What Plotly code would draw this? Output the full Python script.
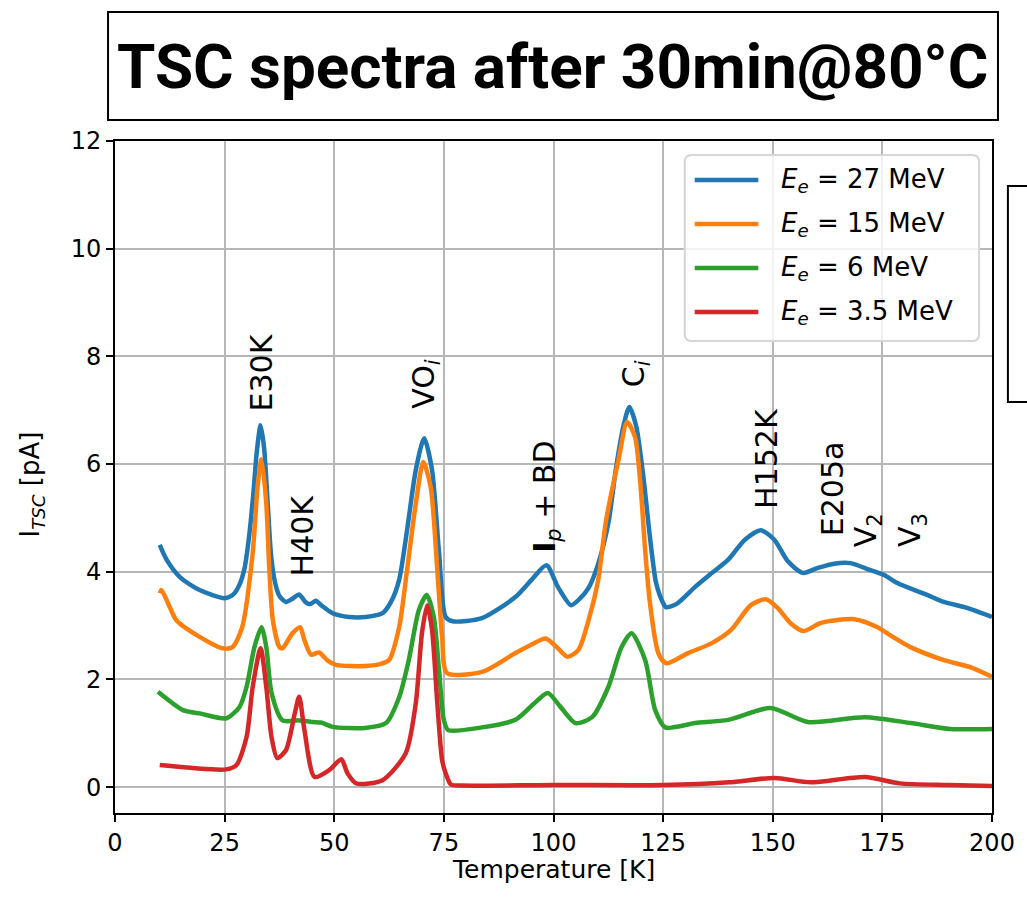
import plotly.graph_objects as go

# ---- TSC spectra (temperature in K, current in pA) ----
T_27 = [10.2, 11.8, 14.8, 19.3, 25.0, 27.0, 28.5, 29.5, 30.5, 31.5, 32.3, 33.2, 34.0, 34.8, 35.6,
        36.5, 37.5, 39.0, 40.5, 42.0, 43.3, 44.5, 45.8, 47.0, 49.6, 53.4, 57.2, 61.0, 63.0, 64.8,
        66.6, 68.6, 70.5, 72.3, 73.9, 75.4, 77.0, 83.7, 91.3, 95.0, 98.4, 101.0, 104.0, 106.0,
        108.0, 110.0, 112.5, 114.3, 115.9, 117.3, 118.9, 120.5, 122.0, 123.4, 125.0, 125.7, 128.0,
        132.3, 136.0, 139.8, 143.6, 147.3, 150.4, 153.4, 156.8, 160.2, 164.0, 167.7, 172.3, 175.4,
        178.4, 185.2, 189.0, 194.3, 200.0]
I_27 = [4.50, 4.22, 3.90, 3.66, 3.51, 3.58, 3.78, 4.05, 4.60, 5.40, 6.20, 6.72, 6.30, 5.30, 4.30,
        3.80, 3.55, 3.44, 3.50, 3.58, 3.45, 3.40, 3.46, 3.38, 3.23, 3.16, 3.16, 3.23, 3.45, 3.85,
        4.77, 5.89, 6.48, 5.89, 4.35, 3.16, 3.08, 3.14, 3.53, 3.85, 4.12, 3.72, 3.38, 3.50,
        3.70, 4.10, 4.90, 5.95, 6.69, 7.06, 6.69, 5.76, 4.64, 3.79, 3.42, 3.34, 3.40,
        3.72, 3.97, 4.22, 4.59, 4.77, 4.59, 4.20, 3.98, 4.07, 4.15, 4.16, 4.03, 3.94,
        3.79, 3.57, 3.44, 3.33, 3.16]

T_15 = [10.2, 10.6, 12.5, 14.0, 19.3, 24.5, 26.8, 29.0, 31.4, 32.5, 33.4, 34.5, 35.2, 36.0, 37.5,
        38.2, 40.5, 42.2, 43.2, 44.7, 46.5, 48.5, 50.4, 57.0, 61.0, 62.5, 64.8, 66.6, 68.6, 70.3,
        72.0, 73.5, 74.6, 75.7, 83.7, 91.3, 95.0, 98.2, 100.5, 103.2, 105.7, 108.0, 110.2, 112.0,
        114.8, 116.8, 118.6, 119.8, 120.9, 122.0, 123.9, 125.7, 130.7, 136.0, 140.5, 145.0, 148.4,
        151.1, 154.0, 157.0, 161.0, 168.6, 173.9, 176.8, 181.4, 189.0, 195.0, 200.0]
I_15 = [3.60, 3.66, 3.34, 3.10, 2.79, 2.58, 2.60, 2.97, 4.35, 5.57, 6.09, 5.27, 4.03, 3.10, 2.60,
        2.58, 2.86, 2.97, 2.73, 2.46, 2.50, 2.35, 2.27, 2.25, 2.30, 2.36, 2.97, 4.03, 5.27, 6.04,
        5.57, 4.03, 2.79, 2.12, 2.14, 2.49, 2.65, 2.76, 2.62, 2.42, 2.55, 3.10, 3.85, 4.96,
        6.07, 6.78, 6.50, 5.65, 4.40, 3.42, 2.49, 2.30, 2.49, 2.67, 2.92, 3.38, 3.49,
        3.33, 3.05, 2.90, 3.05, 3.12, 2.97, 2.82, 2.60, 2.36, 2.23, 2.05]

T_6 = [9.8, 15.5, 19.3, 25.4, 28.4, 30.0, 31.8, 33.4, 34.5, 35.7, 38.2, 42.0, 45.0, 47.0, 49.6,
       57.0, 61.8, 64.8, 67.0, 69.3, 71.1, 72.7, 73.9, 75.0, 76.0, 83.7, 91.3, 95.5, 98.7, 101.5,
       105.0, 108.8, 112.5, 115.5, 117.8, 120.9, 123.2, 125.5, 132.3, 139.8, 149.5,
       158.0, 171.0, 181.5, 190.5, 200.0]
I_6 = [1.77, 1.43, 1.37, 1.28, 1.49, 1.86, 2.60, 2.97, 2.60, 1.75, 1.24, 1.24, 1.21, 1.20, 1.12,
       1.10, 1.19, 1.67, 2.36, 3.29, 3.57, 3.16, 2.17, 1.24, 1.06, 1.11, 1.25, 1.55, 1.75, 1.50,
       1.19, 1.30, 1.86, 2.60, 2.86, 2.36, 1.43, 1.11, 1.19, 1.25, 1.47,
       1.21, 1.30, 1.19, 1.08, 1.08]

T_35 = [10.2, 25.4, 27.7, 30.0, 31.4, 33.2, 34.5, 35.7, 37.0, 39.0, 41.0, 42.0, 43.2, 45.5, 48.9,
        51.6, 53.0, 55.0, 61.0, 66.3, 68.6, 70.0, 71.2, 72.3, 73.5, 74.6, 75.4, 76.6, 79.0, 100.0,
        125.0, 140.0, 150.4, 158.6, 171.0, 179.0, 190.0, 200.0]
I_35 = [0.41, 0.33, 0.41, 0.93, 1.86, 2.58, 1.86, 0.93, 0.54, 0.69, 1.37, 1.68, 1.06, 0.19, 0.32,
        0.52, 0.26, 0.07, 0.13, 0.63, 1.56, 2.86, 3.38, 2.92, 1.56, 0.50, 0.26, 0.05, 0.03, 0.04,
        0.04, 0.09, 0.17, 0.09, 0.19, 0.07, 0.04, 0.02]

series_labels = ["27", "15", "6", "3.5"]
series_colors = ["#1f77b4", "#ff7f0e", "#2ca02c", "#d62728"]
series_T = [T_27, T_15, T_6, T_35]
series_I = [I_27, I_15, I_6, I_35]

# defect labels placed above the peaks
peak_names = ["E30K", "H40K", "VO<sub><i>i</i></sub>", "<b>I</b><sub><i>p</i></sub> + BD",
              "C<sub><i>i</i></sub>", "H152K", "E205a", "V<sub>2</sub>", "V<sub>3</sub>"]
peak_T = [33.4, 42.7, 70.9, 98.4, 118.6, 148.4, 163.6, 171.6, 181.8]
peak_I = [7.71, 4.68, 7.49, 5.40, 7.67, 6.11, 5.54, 4.78, 4.78]

x_ticks = [0, 25, 50, 75, 100, 125, 150, 175, 200]
y_ticks = [0, 2, 4, 6, 8, 10, 12]

W, H = 1027, 898
L, R, TOP, B = 115, 30, 141, 85
FONT = "DejaVu Sans"


def px(x):
    return (x - L) / (W - L - R)


def py(y):
    return (H - B - y) / (H - TOP - B)


fig = go.Figure()
for T, I, c in zip(series_T, series_I, series_colors):
    fig.add_trace(go.Scatter(x=T, y=I, mode="lines",
                             line=dict(color=c, width=4.5, shape="spline", smoothing=0.7),
                             showlegend=False, hoverinfo="skip"))

annotations = []
for name, t, i in zip(peak_names, peak_T, peak_I):
    annotations.append(dict(x=t, y=i, xref="x", yref="y", text=name, showarrow=False,
                            textangle=-90, xanchor="center", yanchor="middle",
                            font=dict(family=FONT, size=30, color="black")))

# axis titles
annotations.append(dict(x=px(556), y=py(869), xref="paper", yref="paper",
                        text="Temperature [K]", showarrow=False,
                        xanchor="center", yanchor="middle",
                        font=dict(family=FONT, size=25, color="black")))
annotations.append(dict(x=px(31), y=py(484), xref="paper", yref="paper",
                        text="I<sub><i>TSC</i></sub> [pA]", showarrow=False, textangle=-90,
                        xanchor="center", yanchor="middle",
                        font=dict(family=FONT, size=26, color="black")))

# title in a framed box
annotations.append(dict(x=px(555), y=py(67), xref="paper", yref="paper",
                        text="<b>TSC spectra after 30min@80°C</b>", showarrow=False,
                        xanchor="center", yanchor="middle",
                        font=dict(family="Roboto", size=62, color="black")))

shapes = [
    dict(type="rect", xref="paper", yref="paper", x0=px(108), x1=px(1003), y0=py(12), y1=py(120),
         line=dict(color="black", width=2), fillcolor="rgba(0,0,0,0)", layer="above"),
    dict(type="rect", xref="paper", yref="paper", x0=px(1013), x1=px(1060), y0=py(186), y1=py(402),
         line=dict(color="black", width=2), fillcolor="rgba(0,0,0,0)", layer="above"),
]

# legend drawn as a rounded frame with line samples
lx0, lx1, ly0, ly1, rad = 688, 984, 155, 341, 7
path = (f"M {px(lx0 + rad)} {py(ly0)} L {px(lx1 - rad)} {py(ly0)} "
        f"Q {px(lx1)} {py(ly0)} {px(lx1)} {py(ly0 + rad)} L {px(lx1)} {py(ly1 - rad)} "
        f"Q {px(lx1)} {py(ly1)} {px(lx1 - rad)} {py(ly1)} L {px(lx0 + rad)} {py(ly1)} "
        f"Q {px(lx0)} {py(ly1)} {px(lx0)} {py(ly1 - rad)} L {px(lx0)} {py(ly0 + rad)} "
        f"Q {px(lx0)} {py(ly0)} {px(lx0 + rad)} {py(ly0)} Z")
shapes.append(dict(type="path", xref="paper", yref="paper", path=path,
                   line=dict(color="#d6d6d6", width=2), fillcolor="rgba(255,255,255,0.8)",
                   layer="above"))
row_y = [180, 224, 268, 312]
for lab, c, yy in zip(series_labels, series_colors, row_y):
    shapes.append(dict(type="line", xref="paper", yref="paper", x0=px(698), x1=px(762),
                       y0=py(yy), y1=py(yy), line=dict(color=c, width=4.5), layer="above"))
    annotations.append(dict(x=px(783), y=py(yy), xref="paper", yref="paper",
                            text=f"<i>E</i><sub><i>e</i></sub> = {lab} MeV", showarrow=False,
                            xanchor="left", yanchor="middle",
                            font=dict(family=FONT, size=26, color="black")))

axis_common = dict(showline=True, linecolor="black", linewidth=2, mirror=True,
                   showgrid=True, gridcolor="#b7b7b7", gridwidth=1.6, zeroline=False,
                   ticks="outside", ticklen=7, tickwidth=2, tickcolor="black",
                   tickfont=dict(family=FONT, size=24, color="black"))

fig.update_layout(
    width=W, height=H,
    margin=dict(l=L, r=R, t=TOP, b=B, pad=0),
    paper_bgcolor="white", plot_bgcolor="white",
    xaxis=dict(range=[0, 200], tickvals=x_ticks, **axis_common),
    yaxis=dict(range=[-0.48, 12], tickvals=y_ticks, **axis_common),
    annotations=annotations,
    shapes=shapes,
)

fig.write_html("out.html")
